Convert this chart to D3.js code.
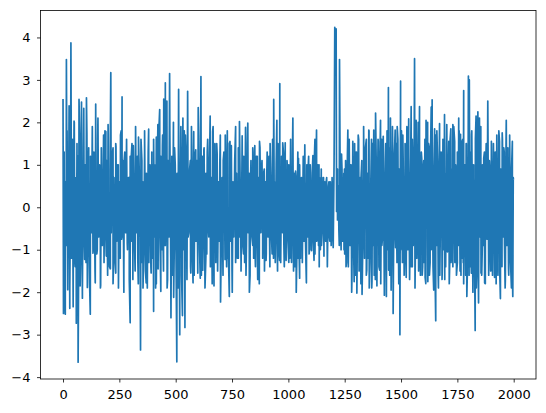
<!DOCTYPE html>
<html>
<head>
<meta charset="utf-8">
<script src="https://cdn.jsdelivr.net/npm/d3@7"></script>
<style>
  body { margin: 0; background: #fff; }
  svg text { font-family: "DejaVu Sans", sans-serif; }
</style>
</head>
<body>
<div id="chart"></div>
<script>
// local highs, [index, value]
const peaks = [
  [0,2.55],[5,1.3],[15,3.48],[27,2.39],[35,3.87],[42,1.6],[49,2.03],[62,1.5],[71,2.54],[82,2.48],[92,2.33],[104,2.58],[114,1.4],[125,0.65],[137,1.3],[145,2.43],[155,2.1],[165,0.65],[180,1.7],[190,1.78],[200,1.95],[212,3.17],[222,1.4],[235,1.43],[245,1.0],[255,1.7],[262,2.6],[272,1.15],[282,1.6],[294,0.7],[303,1.2],[312,1.45],[323,1.25],[335,1.65],[350,1.1],[362,1.3],[380,1.84],[394,1.3],[400,1.0],[414,1.65],[421,1.95],[429,2.3],[441,1.45],[447,2.55],[454,2.93],[461,2.5],[473,3.15],[483,1.2],[495,1.4],[513,2.78],[523,1.9],[532,2.1],[543,1.7],[553,2.73],[565,1.1],[580,1.78],[589,1.35],[600,2.35],[612,3.08],[625,1.35],[640,1.3],[653,2.15],[664,1.78],[674,1.5],[684,1.25],[696,1.1],[711,1.1],[720,1.7],[729,1.8],[741,1.55],
  [747,1.45],[766,1.9],[783,2.02],[795,1.68],[810,1.88],[820,1.98],[831,0.3],[843,1.3],[851,1.45],[862,1.2],[872,1.55],[883,1.1],[893,0.9],[904,0.7],[919,1.5],[935,2.54],[949,2.05],[962,2.91],[975,1.52],[986,1.52],[998,0.7],[1010,1.6],[1020,2.1],[1032,0.85],[1045,1.15],[1059,0.25],[1073,1.47],[1087,0.78],[1097,1.0],[1109,1.22],[1118,1.6],[1125,1.82],[1136,1.0],[1146,0.9],[1156,0.7],[1168,0.6],[1180,0.6],[1194,0.65],[1203,1.1],[1206,4.24],[1212,4.2],[1218,0.9],[1227,3.48],[1236,1.25],[1249,0.9],
  [1264,1.82],[1275,1.0],[1286,1.55],[1301,1.3],[1312,1.6],[1323,0.75],[1334,0.75],[1346,1.6],[1357,1.82],[1369,1.6],[1379,1.82],[1387,2.22],[1399,1.55],[1409,2.05],[1421,1.67],[1432,1.5],[1444,2.82],[1453,2.1],[1464,1.0],[1474,1.82],[1483,1.9],[1491,0.9],[1498,2.97],[1508,1.7],[1518,0.85],[1528,1.5],[1534,2.08],[1545,2.37],[1553,0.78],[1560,3.5],[1567,2.05],[1576,2.0],[1582,2.37],[1592,1.15],[1601,1.1],[1611,2.05],[1618,2.0],[1626,1.35],[1634,2.36],[1638,2.53],[1649,1.85],[1659,1.8],[1671,1.97],[1681,0.85],[1693,2.18],[1703,1.95],[1712,1.55],[1721,1.85],[1730,1.95],[1738,1.55],[1745,0.8],[1756,2.1],[1764,1.72],[1771,1.55],[1778,2.75],[1789,1.5],[1799,3.09],[1803,3.0],[1813,1.7],[1822,1.0],[1833,2.15],[1841,2.25],[1848,2.1],[1857,1.0],[1867,1.15],[1875,0.8],[1885,2.5],[1892,1.1],[1901,1.55],[1911,1.08],[1925,1.7],[1937,1.55],[1949,1.75],[1956,1.4],[1967,2.05],[1974,1.4],[1982,1.43],[1994,1.55],[1999,0.65]
];

// local lows, [index, value]
const troughs = [
  [2,-2.5],[10,-2.52],[18,-0.55],[21,-1.94],[30,-2.38],[38,-1.08],[45,-2.34],[52,-1.23],[59,-2.73],[67,-3.65],[76,-1.85],[86,-2.14],[96,-1.23],[108,-1.89],[121,-2.52],[133,-1.08],[143,-1.78],[152,-1.0],[167,-1.84],[178,-0.8],[192,-1.15],[203,-0.6],[210,-1.45],[226,-0.95],[234,-1.55],[247,-1.18],[260,-0.75],[270,-2.0],[285,-0.85],[298,-2.72],[310,-1.2],[320,-1.5],[332,-1.25],[344,-3.36],[355,-1.9],[369,-1.78],[381,-1.3],[391,-1.55],[402,-2.45],[411,-1.9],[422,-1.45],[434,-1.98],[444,-0.85],[453,-0.9],[464,-1.7],[479,-2.6],[491,-2.12],[505,-3.64],[518,-3.0],[530,-2.55],[541,-2.83],[555,-0.7],[567,-1.55],[577,-1.78],[587,-0.6],[598,-1.55],[609,-1.67],[620,-1.48],[634,-1.17],[647,-0.7],[660,-0.45],[670,-1.85],[687,-1.05],[699,-2.23],[708,-0.55],[719,-1.23],[731,-1.2],[738,-2.1],
  [751,-2.0],[768,-0.6],[778,-1.2],[790,-1.3],[801,-1.1],[812,-1.6],[827,-2.0],[842,-0.9],[853,-1.2],[864,-1.7],[871,-1.8],[886,-0.6],[901,-1.25],[916,-0.5],[928,-1.1],[938,-0.8],[952,-1.5],[961,-1.25],[972,-0.3],[980,-0.85],[990,-1.25],[1002,-1.3],[1013,-1.05],[1023,-1.5],[1035,-2.0],[1043,-1.2],[1050,-1.67],[1062,-1.0],[1076,-0.75],[1080,-1.78],[1092,-1.1],[1103,-1.02],[1114,-1.25],[1128,-0.62],[1137,-1.4],[1147,-0.9],[1158,-1.15],[1173,-1.4],[1184,-0.8],[1199,-0.95],[1214,-0.1],[1224,-0.5],[1239,-0.8],[1247,-1.0],
  [1256,-1.4],[1268,-0.4],[1281,-2.0],[1292,-1.75],[1304,-2.02],[1315,-1.48],[1327,-2.05],[1338,-1.2],[1348,-1.48],[1359,-1.9],[1371,-1.75],[1381,-1.6],[1393,-1.85],[1405,-1.48],[1415,-0.9],[1426,-2.07],[1435,-2.1],[1445,-1.48],[1456,-1.95],[1465,-2.5],[1476,-0.95],[1488,-0.55],[1495,-3.0],[1506,-1.2],[1516,-1.1],[1523,-1.65],[1540,-0.9],[1550,-1.4],[1565,-0.4],[1579,-0.9],[1586,-1.6],[1596,-1.4],[1607,-1.65],[1619,-1.75],[1629,-1.3],[1637,-0.3],[1645,-1.95],[1654,-2.67],[1665,-1.65],[1672,-1.6],[1683,-1.45],[1694,-1.7],[1706,-1.05],[1717,-1.1],[1728,-1.25],[1739,-1.3],[1750,-1.3],[1757,-0.6],[1766,-1.6],[1776,-1.3],[1787,-1.6],[1792,-2.1],[1806,-1.4],[1812,-1.55],[1819,-2.0],[1829,-2.9],[1837,-1.2],[1844,-2.25],[1855,-1.55],[1862,-0.6],[1871,-1.78],[1882,-0.75],[1889,-1.6],[1899,-1.48],[1915,-1.65],[1922,-1.7],[1930,-1.6],[1941,-2.15],[1948,-1.4],[1959,-0.85],[1963,-1.7],[1977,-1.45],[1986,-0.8],[1990,-1.9],[1996,-2.1]
];

// values inside the solid band, one every 4 steps from index 2
const innerStart = 2, innerStep = 4;
const inner = [
  1.1,-1.6,0.6,-0.9,1.8,-0.7,1.3,-1.9,0.8,-1.2,1.5,-0.6,2.0,-1.4,0.7,-1.7,1.2,-0.8,1.6,-1.1,0.9,-2.0,1.4,-0.7,1.0,
  -1.3,1.7,-0.8,0.7,-1.8,1.2,-0.6,1.9,-1.0,0.8,-1.5,0.6,-1.1,1.6,-0.7,1.0,-1.9,1.4,-0.9,0.6,-1.3,1.8,-0.7,1.1,-1.6,
  0.9,-1.4,1.7,-0.6,1.2,-1.8,0.7,-1.1,1.5,-0.8,1.0,-1.9,0.6,-1.2,1.8,-0.7,1.1,-1.5,1.3,-0.6,1.6,-1.0,0.7,-1.7,1.2,
  -0.8,1.5,-1.7,0.7,-1.0,1.9,-0.6,1.2,-1.8,0.9,-0.7,1.6,-1.3,0.6,-1.1,1.8,-1.5,0.8,-1.9,1.3,-0.6,1.0,-1.4,0.7,-1.2,
  1.6,-0.7,1.0,-1.8,0.8,-1.3,1.9,-0.6,1.2,-1.0,1.7,-1.5,0.6,-0.9,1.4,-1.9,1.1,-0.7,1.8,-1.2,0.7,-1.6,2.0,-0.8,1.0,
  -1.5,0.8,-1.9,1.4,-0.7,1.1,-1.6,0.6,-1.0,1.8,-0.8,1.2,-1.7,1.5,-0.6,0.9,-1.4,1.9,-1.1,0.7,-1.6,1.3,-0.8,1.1,-1.2,
  1.7,-1.0,0.6,-1.6,1.2,-0.7,1.4,-1.9,0.8,-1.1,1.6,-0.6,1.0,-1.4,0.7,-1.8,1.9,-0.9,1.2,-1.3,1.5,-1.5,0.6,-0.8,1.7,
  -1.0,0.7,-1.6,1.3,-0.6,0.9,-1.4,0.7,-1.1,1.5,-0.8,1.2,-1.5,0.6,-0.7,1.1,-1.3,0.8,-1.2,1.4,-0.7,0.6,-1.5,1.0,-0.9,
  1.2,-1.3,0.7,-0.9,1.5,-0.6,0.8,-1.6,1.1,-0.7,1.4,-1.2,0.6,-1.4,1.2,-0.8,0.7,-1.3,1.4,-0.6,1.0,-1.2,0.8,-1.5,0.6,
  -1.1,1.3,-0.7,1.2,-1.4,0.7,-0.8,1.6,-1.2,0.6,-1.3,1.0,-0.7,1.5,-1.0,0.8,-1.3,1.2,-0.6,1.3,-1.4,0.7,-1.0,1.1,-0.8,
  1.0,-1.2,0.6,-1.3,1.2,-0.7,0.8,-1.4,0.7,-1.0,1.3,-0.6,1.0,-1.2,0.7,-1.3,1.2,-0.8,0.6,-1.3,1.0,-0.7,1.2,-1.0,0.7,
  -1.0,0.8,-0.7,0.9,-1.1,0.6,-0.8,1.0,-0.9,0.7,-1.0,0.8,-0.6,0.7,-0.9,0.6,-0.8,0.7,-1.0,0.5,-0.7,0.6,-0.9,0.7,-0.8,
  0.6,4.1,4.0,0.2,-0.3,0.5,-0.9,0.6,-1.0,0.9,-0.8,0.8,-1.1,1.1,-1.3,1.2,-1.4,1.6,-0.9,1.0,-1.7,1.3,-1.1,1.5,-1.6,
  1.3,-0.8,1.7,-1.5,0.7,-1.8,1.1,-1.0,1.9,-0.7,1.4,-1.6,0.8,-1.2,1.8,-1.3,0.6,-1.9,1.5,-0.9,1.2,-1.7,1.0,-0.7,1.6,
  -1.4,1.0,-1.8,1.6,-0.7,1.2,-1.9,0.8,-1.3,1.8,-1.0,1.4,-1.6,0.7,-0.9,1.9,-1.7,1.1,-0.6,1.5,-1.3,1.6,-1.8,0.9,-1.0,
  1.8,-1.3,0.9,-1.6,1.5,-0.7,1.9,-1.0,1.2,-1.7,0.7,-1.4,1.6,-0.9,1.0,-1.9,1.7,-1.2,0.8,-1.5,1.4,-1.0,1.3,-1.6,0.9,
  -1.3,1.6,-1.8,1.0,-0.7,1.5,-1.6,0.9,-1.0,1.9,-1.4,0.7,-1.2,1.7,-0.9,1.1,-1.9,1.4,-0.7,1.3,-1.7,1.6,-1.0,0.8,-1.4,
  1.4,-1.0,0.7,-1.8,1.6,-1.3,0.9,-1.4,1.9,-0.7,1.0,-1.6,1.3,-0.9,1.8,-1.5,0.7,-1.2,1.6,-1.8,1.0,-0.7,1.5,-1.6,1.3,
  -1.6,1.3,-0.9,1.8,-1.4,0.7,-1.0,1.6,-1.9,0.9,-1.3,1.4,-0.7,1.9,-1.6,1.0,-0.9,1.3,-1.8,1.5,-0.7,1.6,-1.3,0.9,-1.5,
  1.0,-1.6,1.5,-0.9,1.3,-1.8,0.7,-1.3,1.8,-1.5,0.9,-1.0,1.6,-0.7,1.3,-1.9,1.5,-0.9,1.0,-1.6,1.7,-1.3,0.8,-1.5,0.7
];

const xTicks = [0, 250, 500, 750, 1000, 1250, 1500, 1750, 2000];
const yTicks = [-4, -3, -2, -1, 0, 1, 2, 3, 4];

// merge highs, lows and band values into one series in index order
const series = peaks.concat(troughs)
    .concat(inner.map((v, i) => [innerStart + i * innerStep, v]))
    .sort((a, b) => a[0] - b[0]);

const width = 546, height = 413;
const margin = {top: 10.5, right: 10, bottom: 34, left: 40.5};

const svg = d3.select("#chart").append("svg")
    .attr("width", width)
    .attr("height", height);

// matplotlib style 5% margins
const xExt = d3.extent(series, d => d[0]);
const yExt = d3.extent(series, d => d[1]);
const xPad = (xExt[1] - xExt[0]) * 0.05;
const yPad = (yExt[1] - yExt[0]) * 0.05;

const x = d3.scaleLinear()
    .domain([xExt[0] - xPad, xExt[1] + xPad])
    .range([margin.left, width - margin.right]);

const y = d3.scaleLinear()
    .domain([yExt[0] - yPad, yExt[1] + yPad])
    .range([height - margin.bottom, margin.top]);

svg.append("defs").append("clipPath").attr("id", "clip")
  .append("rect")
    .attr("x", margin.left)
    .attr("y", margin.top)
    .attr("width", width - margin.left - margin.right)
    .attr("height", height - margin.top - margin.bottom);

const line = d3.line()
    .x(d => x(d[0]))
    .y(d => y(d[1]));

svg.append("path")
    .datum(series)
    .attr("clip-path", "url(#clip)")
    .attr("fill", "none")
    .attr("stroke", "#1f77b4")
    .attr("stroke-width", 1.7)
    .attr("stroke-linejoin", "round")
    .attr("d", line);

const fmt = d => String(d).replace("-", "\u2212");

const xAxis = svg.append("g")
    .attr("transform", `translate(0,${height - margin.bottom})`)
    .call(d3.axisBottom(x).tickValues(xTicks).tickSize(3.5).tickPadding(7.5).tickFormat(fmt));

const yAxis = svg.append("g")
    .attr("transform", `translate(${margin.left},0)`)
    .call(d3.axisLeft(y).tickValues(yTicks).tickSize(3.5).tickPadding(6.5).tickFormat(fmt));

[xAxis, yAxis].forEach(g => {
  g.select(".domain").remove();
  g.selectAll("line").attr("stroke", "#000").attr("stroke-width", 0.8);
  g.selectAll("text")
      .attr("fill", "#000")
      .style("font-size", "13px")
      .style("font-family", "'DejaVu Sans', sans-serif");
});

// frame around the axes
svg.append("rect")
    .attr("x", margin.left)
    .attr("y", margin.top)
    .attr("width", width - margin.left - margin.right)
    .attr("height", height - margin.top - margin.bottom)
    .attr("fill", "none")
    .attr("stroke", "#000")
    .attr("stroke-width", 0.8);
</script>
</body>
</html>
